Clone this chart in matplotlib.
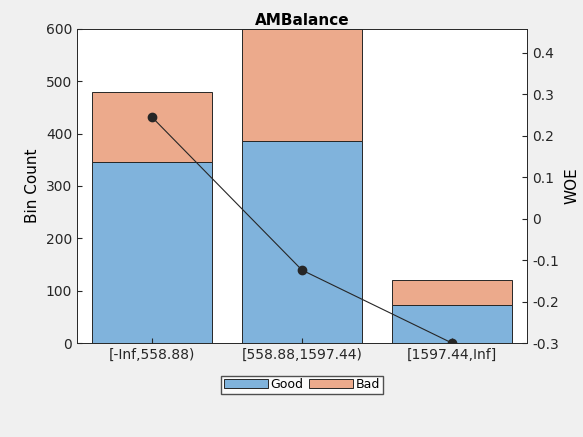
import matplotlib.pyplot as plt
import numpy as np

categories = ["[-Inf,558.88)", "[558.88,1597.44)", "[1597.44,Inf]"]
good = [345, 385, 72]
bad = [135, 215, 48]
woe = [0.245, -0.124, -0.300]

GOOD_C = "#80b3dc"
BAD_C = "#ecaa8c"

fig = plt.figure(figsize=(5.83, 4.37), dpi=100, facecolor="#f0f0f0")
ax = fig.add_axes([0.132, 0.215, 0.772, 0.719])
ax.set_facecolor("white")
x = np.arange(1, len(categories) + 1)
ax.bar(x, good, width=0.8, color=GOOD_C, edgecolor="#262626", linewidth=0.7, label="Good")
ax.bar(x, bad, bottom=good, width=0.8, color=BAD_C, edgecolor="#262626", linewidth=0.7, label="Bad")
ax.set_xlim(0.5, 3.5)
ax.set_ylim(0, 600)
ax.set_xticks(x)
ax.set_xticklabels(categories)
ax.set_ylabel("Bin Count", fontsize=11)
ax.set_title("AMBalance", fontsize=11, fontweight="bold", pad=3)
ax.tick_params(direction="in", labelsize=10, colors="#262626", top=False)

ax2 = ax.twinx()
ax2.plot(x, woe, color="#262626", linewidth=0.8, marker="o", markersize=6)
ax2.set_ylim(-0.3, 0.458)
ax2.set_yticks([-0.3, -0.2, -0.1, 0, 0.1, 0.2, 0.3, 0.4])
ax2.set_yticklabels(["-0.3", "-0.2", "-0.1", "0", "0.1", "0.2", "0.3", "0.4"])
ax2.set_ylabel("WOE", fontsize=11)
ax2.tick_params(direction="in", labelsize=10, colors="#262626")

for a in (ax, ax2):
    for s in a.spines.values():
        s.set_color("#262626")
        s.set_linewidth(0.6)

fig.legend(*ax.get_legend_handles_labels(), loc="center", bbox_to_anchor=(0.518, 0.12),
           ncol=2, fontsize=9, frameon=True, fancybox=False, edgecolor="#262626",
           handlelength=3.5, handletextpad=0.2, columnspacing=0.5, borderpad=0.2)
fig.savefig("out.png", dpi=100, facecolor=fig.get_facecolor())
